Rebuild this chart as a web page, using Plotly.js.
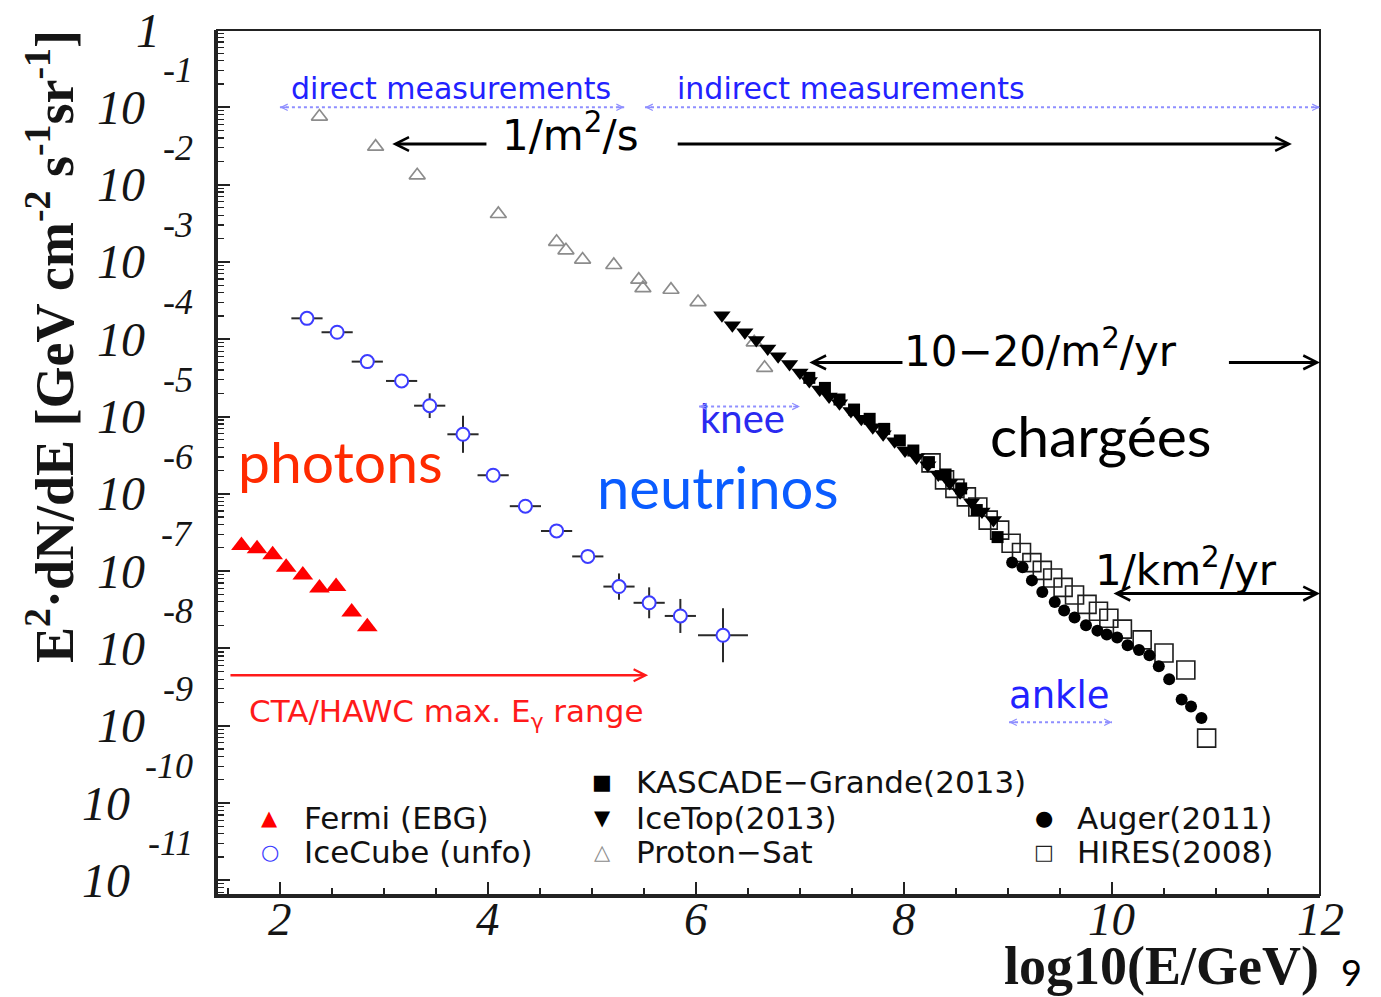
<!DOCTYPE html>
<html>
<head>
<meta charset="utf-8">
<script src="https://cdn.plot.ly/plotly-3.0.1.min.js"></script>
<style>
  html, body { margin: 0; padding: 0; background: #ffffff; }
  #chart { width: 1381px; height: 997px; }
</style>
</head>
<body>
<div id="chart"></div>
<script>
// Cosmic-ray, neutrino and gamma-ray spectra: log10(E/GeV) vs log10(E^2 dN/dE)

const fermiLogE    = [1.63, 1.78, 1.93, 2.06, 2.22, 2.38, 2.54, 2.69, 2.84];
const fermiLogFlux = [-6.67, -6.71, -6.79, -6.95, -7.05, -7.22, -7.20, -7.53, -7.72];

const icecubeLogE       = [2.26, 2.55, 2.84, 3.17, 3.44, 3.76, 4.05, 4.36, 4.66, 4.96, 5.26, 5.55, 5.85, 6.26];
const icecubeLogFlux    = [-3.73, -3.91, -4.29, -4.54, -4.86, -5.23, -5.76, -6.16, -6.48, -6.81, -7.20, -7.41, -7.58, -7.83];
const icecubeErrLogE    = [0.15, 0.15, 0.15, 0.15, 0.15, 0.15, 0.15, 0.15, 0.15, 0.15, 0.15, 0.15, 0.15, 0.24];
const icecubeErrLogFlux = [0.05, 0.05, 0.05, 0.05, 0.16, 0.24, 0.09, 0.05, 0.05, 0.05, 0.17, 0.20, 0.22, 0.35];

const protonLogE    = [2.38, 2.92, 3.32, 4.10, 4.66, 4.75, 4.91, 5.21, 5.45, 5.49, 5.76, 6.02, 6.56, 6.66];
const protonLogFlux = [-1.12, -1.51, -1.88, -2.38, -2.74, -2.85, -2.97, -3.04, -3.23, -3.34, -3.36, -3.52, -4.04, -4.37];

const icetopLogE    = [6.25, 6.35, 6.47, 6.58, 6.69, 6.79, 6.90, 7.00, 7.09, 7.19, 7.28, 7.38, 7.49,
                       7.59, 7.70, 7.80, 7.91, 8.01, 8.12, 8.23, 8.33, 8.44, 8.54, 8.65, 8.75, 8.86];
const icetopLogFlux = [-3.69, -3.82, -3.91, -4.01, -4.12, -4.22, -4.32, -4.43, -4.54, -4.65, -4.74, -4.83, -4.93,
                       -5.03, -5.14, -5.23, -5.32, -5.44, -5.53, -5.63, -5.75, -5.86, -5.98, -6.11, -6.23, -6.34];

const kascadeLogE    = [7.09, 7.24, 7.38, 7.52, 7.67, 7.81, 7.96, 8.09, 8.24, 8.40, 8.55, 8.70, 8.90];
const kascadeLogFlux = [-4.50, -4.63, -4.78, -4.91, -5.03, -5.16, -5.31, -5.44, -5.59, -5.75, -5.93, -6.21, -6.56];

const augerLogE    = [9.04, 9.14, 9.23, 9.33, 9.45, 9.54, 9.64, 9.75, 9.86, 9.95, 10.05, 10.15, 10.26,
                      10.36, 10.45, 10.55, 10.67, 10.76, 10.86];
const augerLogFlux = [-6.89, -6.95, -7.12, -7.27, -7.40, -7.51, -7.60, -7.70, -7.77, -7.82, -7.86, -7.96, -8.02,
                      -8.09, -8.23, -8.40, -8.66, -8.75, -8.90];

const hiresLogE    = [8.26, 8.39, 8.49, 8.60, 8.71, 8.81, 8.92, 9.03, 9.13, 9.23, 9.33, 9.43, 9.53, 9.64,
                      9.76, 9.87, 9.97, 10.10, 10.29, 10.50, 10.71, 10.91];
const hiresLogFlux = [-5.60, -5.82, -5.93, -6.04, -6.17, -6.34, -6.47, -6.64, -6.76, -6.89, -6.99, -7.09, -7.21, -7.31,
                      -7.43, -7.52, -7.61, -7.75, -7.89, -8.06, -8.28, -9.16];

const yTickDecades   = [-1, -2, -3, -4, -5, -6, -7, -8, -9, -10, -11];
const yTickExponents = ['-1', '-2', '-3', '-4', '-5', '-6', '-7', '-8', '-9', '-10', '-11'];
const xTickVals      = [2, 4, 6, 8, 10, 12];

const legendEntries = [
  { name: 'Fermi (EBG)',          glyph: '▲', color: '#ff0000' },
  { name: 'IceCube (unfo)',       glyph: '○', color: '#3c3cff' },
  { name: 'KASCADE−Grande(2013)', glyph: '■', color: '#000000' },
  { name: 'IceTop(2013)',         glyph: '▼', color: '#000000' },
  { name: 'Proton−Sat',           glyph: '△', color: '#8c8c8c' },
  { name: 'Auger(2011)',          glyph: '●', color: '#000000' },
  { name: 'HIRES(2008)',          glyph: '□', color: '#222222' }
];

const pow10 = a => a.map(v => Math.pow(10, v));

function points(name, logE, logFlux, marker) {
  return { type: 'scatter', mode: 'markers', name: name, x: logE, y: pow10(logFlux),
           marker: marker, showlegend: false, hoverinfo: 'skip' };
}

const icecube = points('IceCube (unfo)', icecubeLogE, icecubeLogFlux,
  { symbol: 'circle', size: 13, color: '#ffffff', line: { color: '#3c3cff', width: 2 } });
icecube.error_x = { type: 'data', array: icecubeErrLogE, color: '#2a2a2a', thickness: 2, width: 0 };
icecube.error_y = {
  type: 'data', symmetric: false, color: '#2a2a2a', thickness: 2, width: 0,
  array:      icecubeLogFlux.map((v, i) => Math.pow(10, v + icecubeErrLogFlux[i]) - Math.pow(10, v)),
  arrayminus: icecubeLogFlux.map((v, i) => Math.pow(10, v) - Math.pow(10, v - icecubeErrLogFlux[i]))
};

const traces = [
  points('Proton−Sat', protonLogE, protonLogFlux,
    { symbol: 'triangle-up-open', size: 14, color: '#8c8c8c', line: { color: '#8c8c8c', width: 1.7 } }),
  points('HIRES(2008)', hiresLogE, hiresLogFlux,
    { symbol: 'square-open', size: 18, color: '#1e1e1e', line: { color: '#1e1e1e', width: 1.6 } }),
  points('KASCADE−Grande(2013)', kascadeLogE, kascadeLogFlux,
    { symbol: 'square', size: 12, color: '#000000' }),
  points('IceTop(2013)', icetopLogE, icetopLogFlux,
    { symbol: 'triangle-down', size: 15, color: '#000000' }),
  points('Auger(2011)', augerLogE, augerLogFlux,
    { symbol: 'circle', size: 12, color: '#000000' }),
  points('Fermi (EBG)', fermiLogE, fermiLogFlux,
    { symbol: 'triangle-up', size: 18, color: '#ff0000' }),
  icecube
];

// ---- text, arrows and labels inside the frame ----
const serif = 'Liberation Serif, Times New Roman, serif';
const round = 'DejaVu Sans, Noto Sans, sans-serif';
const humanist = 'Lato, Noto Sans, sans-serif';

const annotations = [];
function label(text, x, ly, font, extra) {
  annotations.push(Object.assign({ text: text, x: x, y: ly, xref: 'x', yref: 'y', showarrow: false,
    xanchor: 'center', yanchor: 'middle', font: font }, extra || {}));
}
function arrow(x0, ly0, x1, ly1, color, width, both) {
  annotations.push({ text: '', x: x1, y: ly1, ax: x0, ay: ly0, xref: 'x', yref: 'y', axref: 'x', ayref: 'y',
    showarrow: true, arrowhead: 5, arrowsize: 0.9, arrowwidth: width, arrowcolor: color,
    arrowside: both ? 'end+start' : 'end', startarrowhead: 5, startarrowsize: 0.9, standoff: 0, startstandoff: 0 });
}
const shapes = [];
function dottedSpan(x0, x1, ly, color) {
  shapes.push({ type: 'line', xref: 'x', yref: 'y', x0: x0, x1: x1, y0: Math.pow(10, ly), y1: Math.pow(10, ly),
    line: { color: color, width: 2, dash: 'dot' } });
  arrow(x0 + 0.08, ly, x0, ly, color, 1.4, false);
  arrow(x1 - 0.08, ly, x1, ly, color, 1.4, false);
}

const blue = '#2222ff';
const paleBlue = '#8f8fff';

label('direct measurements', 3.64, -0.76, { family: round, size: 30, color: blue });
label('indirect measurements', 7.49, -0.76, { family: round, size: 30, color: blue });
dottedSpan(2.0, 5.31, -1.0, paleBlue);
dottedSpan(5.51, 12.0, -1.0, paleBlue);

label('1/m<sup>2</sup>/s', 4.79, -1.33, { family: round, size: 42, color: '#000' });
arrow(4.00, -1.475, 3.08, -1.475, '#000', 3, false);
arrow(5.81, -1.475, 11.73, -1.475, '#000', 3, false);

label('10−20/m<sup>2</sup>/yr', 9.31, -4.12, { family: round, size: 42, color: '#000' });
arrow(8.00, -4.30, 7.09, -4.30, '#000', 3, false);
arrow(11.11, -4.30, 12.0, -4.30, '#000', 3, false);

label('1/km<sup>2</sup>/yr', 10.71, -6.95, { family: round, size: 42, color: '#000' });
arrow(10.0, -7.29, 12.0, -7.29, '#000', 3, true);

label('photons', 2.58, -5.58, { family: humanist, size: 57, color: '#ff2a00' });
label('neutrinos', 6.21, -5.90, { family: humanist, size: 58, color: '#0a5cff' });
label('chargées', 9.89, -5.24, { family: humanist, size: 57, color: '#000' });

label('knee', 6.45, -5.02, { family: humanist, size: 40, color: '#2a2af0' });
dottedSpan(6.03, 7.00, -4.87, paleBlue);

label('ankle', 9.50, -8.61, { family: round, size: 37, color: blue });
dottedSpan(9.01, 10.0, -8.955, paleBlue);

label('CTA/HAWC max. E<sub>γ</sub> range', 3.60, -8.84, { family: round, size: 31, color: '#ff1a1a' });
arrow(1.51, -8.347, 5.54, -8.347, '#ff1a1a', 2.6, false);

// ---- legend, three columns ----
const legendRows = [
  { col: [1.90, 2.21], ly: -10.20 }, { col: [1.90, 2.21], ly: -10.64 },
  { col: [5.10, 5.40], ly: -9.73 },  { col: [5.10, 5.40], ly: -10.19 }, { col: [5.10, 5.40], ly: -10.64 },
  { col: [9.35, 9.64], ly: -10.20 }, { col: [9.35, 9.64], ly: -10.64 }
];
legendEntries.forEach((e, i) => {
  const r = legendRows[i];
  label(e.glyph, r.col[0], r.ly, { family: round, size: 21, color: e.color });
  label(e.name, r.col[1], r.ly, { family: round, size: 31, color: '#111' }, { xanchor: 'left' });
});

// ---- tick labels: 10^n on the flux axis, plain numbers on the energy axis ----
const tickFont = { family: serif, size: 48, style: 'italic', color: '#151515' };
const expFont  = { family: serif, size: 36, style: 'italic', color: '#151515' };
annotations.push({ text: '1', xref: 'paper', x: 0, xshift: -55, xanchor: 'right', yref: 'y', y: 0,
  yanchor: 'middle', showarrow: false, font: tickFont });
yTickDecades.forEach((d, i) => {
  const exp = yTickExponents[i];
  annotations.push({ text: '10', xref: 'paper', x: 0, xshift: exp.length > 2 ? -85 : -70, xanchor: 'right',
    yref: 'y', y: d, yanchor: 'middle', showarrow: false, font: tickFont });
  annotations.push({ text: exp, xref: 'paper', x: 0, xshift: -22, xanchor: 'right',
    yref: 'y', y: d, yshift: 37, yanchor: 'middle', showarrow: false, font: expFont });
});
xTickVals.forEach(v => {
  annotations.push({ text: String(v), xref: 'x', x: v, yref: 'paper', y: -0.028, xanchor: 'center',
    yanchor: 'middle', showarrow: false, borderpad: 0, font: { family: serif, size: 47, style: 'italic', color: '#151515' } });
});

// ---- axis titles and page number ----
annotations.push({ text: 'E<sup>2</sup>·dN/dE [GeV cm<sup>-2</sup> s<sup>-1</sup>sr<sup>-1</sup>]',
  xref: 'paper', yref: 'paper', x: -0.151, y: 0.634, textangle: -90, showarrow: false,
  xanchor: 'center', yanchor: 'middle', font: { family: serif, size: 54, weight: 'bold', color: '#151515' } });
annotations.push({ text: 'log10(E/GeV)', xref: 'paper', yref: 'paper', x: 1, y: -0.1179,
  xanchor: 'right', yanchor: 'bottom', showarrow: false, borderpad: 0,
  font: { family: serif, size: 54, weight: 'bold', color: '#151515' } });
annotations.push({ text: '9', xref: 'paper', yref: 'paper', x: 1.029, y: -0.117,
  xanchor: 'center', yanchor: 'bottom', showarrow: false, font: { family: humanist, size: 36, color: '#000' } });

// frame
shapes.push({ type: 'rect', xref: 'paper', yref: 'paper', x0: 0, x1: 1, y0: 0, y1: 1,
  line: { color: '#222', width: 2 } });

const layout = {
  width: 1381, height: 997,
  margin: { l: 217, r: 61, t: 30, b: 102 },
  paper_bgcolor: '#ffffff', plot_bgcolor: '#ffffff',
  showlegend: false, hovermode: false,
  xaxis: {
    range: [1.395, 12.0], tickvals: xTickVals, showticklabels: false,
    ticks: 'inside', ticklen: 13, tickwidth: 2, tickcolor: '#222',
    minor: { dtick: 0.5, tick0: 0, ticks: 'inside', ticklen: 7, tickwidth: 1.5, tickcolor: '#222' },
    showline: true, linewidth: 3, linecolor: '#222', mirror: false, showgrid: false, zeroline: false
  },
  yaxis: {
    type: 'log', range: [-11.19, 0], dtick: 1,
    ticks: 'inside', ticklen: 13, tickwidth: 2, tickcolor: '#222', showticklabels: false,
    minor: { dtick: 'D1', ticks: 'inside', ticklen: 7, tickwidth: 1.2, tickcolor: '#222' },
    showline: true, linewidth: 3, linecolor: '#222', mirror: false, showgrid: false, zeroline: false
  },
  annotations: annotations,
  shapes: shapes
};

Plotly.newPlot('chart', traces, layout, { displayModeBar: false, staticPlot: true });
</script>
</body>
</html>
